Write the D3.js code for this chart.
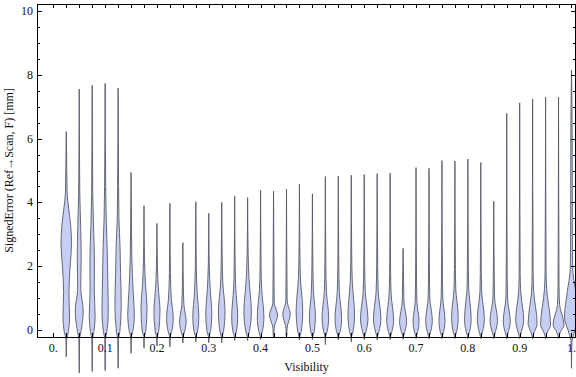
<!DOCTYPE html>
<html><head><meta charset="utf-8">
<script src="https://cdn.jsdelivr.net/npm/d3@7"></script>
<style>body{margin:0;background:#fff}svg{display:block}</style>
</head><body>
<script>
const visibility = [0.025,0.05,0.075,0.1,0.125,0.15,0.175,0.2,0.225,0.25,0.275,0.3,0.325,0.35,0.375,0.4,0.425,0.45,0.475,0.5,0.525,0.55,0.575,0.6,0.625,0.65,0.675,0.7,0.725,0.75,0.775,0.8,0.825,0.85,0.875,0.9,0.925,0.95,0.975,1.0];
const errorMin = [-0.84,-1.35,-1.3,-1.27,-1.2,-0.73,-0.57,-0.5,-0.53,-0.41,-0.37,-0.4,-0.4,-0.33,-0.33,-0.3,-0.23,-0.23,-0.31,-0.3,-0.46,-0.31,-0.38,-0.3,-0.31,-0.3,-0.29,-0.27,-0.27,-0.27,-0.27,-0.27,-0.27,-0.27,-0.27,-0.27,-0.27,-0.27,-0.27,-1.2];
const errorMax = [6.22,7.55,7.67,7.73,7.58,4.94,3.9,3.34,3.97,2.74,4.02,3.66,4.0,4.2,4.15,4.38,4.35,4.42,4.57,4.27,4.81,4.82,4.85,4.87,4.9,4.92,2.56,5.09,5.07,5.31,5.3,5.36,5.25,4.03,6.79,7.12,7.24,7.3,7.3,8.15];
// density profile knots [error, relative density]
const densityKnots = [
 [[-0.3,0.05],[-0.05,0.3],[0.4,0.47],[1.2,0.38],[2.0,0.55],[2.7,0.75],[3.3,0.62],[3.8,0.35],[4.3,0.12],[5.0,0.07]],
 [[-0.3,0.05],[-0.05,0.25],[0.6,0.57],[1.3,0.22],[2.3,0.28],[3.3,0.2],[4.3,0.08]],
 [[-0.3,0.05],[-0.05,0.25],[0.45,0.42],[1.2,0.3],[2.2,0.32],[3.3,0.18],[4.3,0.08]],
 [[-0.3,0.05],[-0.05,0.25],[0.6,0.45],[1.5,0.38],[2.5,0.3],[3.5,0.15],[4.5,0.08]],
 [[-0.3,0.05],[-0.05,0.25],[0.8,0.45],[1.8,0.35],[2.6,0.28],[3.5,0.12],[4.5,0.07]],
 [[-0.2,0.05],[-0.05,0.25],[0.5,0.47],[1.2,0.3],[2.2,0.12],[3.0,0.07]],
 [[-0.2,0.05],[-0.05,0.25],[0.7,0.43],[1.4,0.22],[2.2,0.07]],
 [[-0.2,0.05],[-0.05,0.25],[0.6,0.43],[1.3,0.2],[2.0,0.07]],
 [[-0.2,0.05],[-0.05,0.25],[0.37,0.47],[1.0,0.2],[1.8,0.07]],
 [[-0.2,0.05],[-0.05,0.25],[0.26,0.47],[0.8,0.15],[1.4,0.07]],
 [[-0.2,0.05],[-0.05,0.25],[0.4,0.43],[1.2,0.18],[2.0,0.07]],
 [[-0.2,0.05],[-0.05,0.25],[0.5,0.43],[1.3,0.2],[2.0,0.07]],
 [[-0.2,0.05],[-0.05,0.25],[0.57,0.47],[1.5,0.15],[2.2,0.07]],
 [[-0.2,0.05],[-0.05,0.25],[0.4,0.43],[1.3,0.15],[2.0,0.07]],
 [[-0.2,0.05],[-0.05,0.25],[0.57,0.53],[1.6,0.2],[2.4,0.07]],
 [[-0.2,0.05],[-0.05,0.25],[0.4,0.47],[1.3,0.15],[2.0,0.07]],
 [[-0.15,0.05],[0.05,0.08],[0.47,0.57],[0.85,0.1],[1.5,0.07]],
 [[-0.15,0.05],[0.05,0.08],[0.5,0.53],[0.9,0.1],[1.5,0.07]],
 [[-0.2,0.05],[-0.05,0.25],[0.6,0.47],[1.6,0.15],[2.3,0.07]],
 [[-0.2,0.05],[-0.05,0.25],[0.4,0.43],[1.2,0.15],[2.0,0.07]],
 [[-0.2,0.05],[-0.05,0.25],[0.4,0.47],[1.2,0.15],[2.0,0.07]],
 [[-0.2,0.05],[-0.05,0.25],[0.35,0.47],[1.2,0.15],[2.0,0.07]],
 [[-0.2,0.05],[-0.05,0.25],[0.47,0.47],[1.5,0.15],[2.2,0.07]],
 [[-0.2,0.05],[-0.05,0.25],[0.35,0.53],[1.2,0.15],[2.0,0.07]],
 [[-0.2,0.05],[-0.05,0.25],[0.35,0.53],[1.2,0.15],[2.0,0.07]],
 [[-0.2,0.05],[-0.05,0.25],[0.3,0.5],[1.1,0.15],[1.8,0.07]],
 [[-0.2,0.05],[-0.05,0.25],[0.26,0.5],[0.9,0.12],[1.5,0.07]],
 [[-0.2,0.05],[-0.05,0.25],[0.26,0.43],[0.9,0.12],[1.5,0.07]],
 [[-0.2,0.05],[-0.05,0.25],[0.3,0.47],[1.0,0.12],[1.6,0.07]],
 [[-0.2,0.05],[-0.05,0.25],[0.3,0.43],[1.0,0.12],[1.6,0.07]],
 [[-0.2,0.05],[-0.05,0.25],[0.4,0.47],[1.3,0.12],[1.9,0.07]],
 [[-0.2,0.05],[-0.05,0.25],[0.35,0.47],[1.3,0.12],[1.9,0.07]],
 [[-0.2,0.05],[-0.05,0.25],[0.35,0.5],[1.2,0.12],[1.8,0.07]],
 [[-0.2,0.05],[-0.05,0.25],[0.3,0.53],[1.0,0.12],[1.6,0.07]],
 [[-0.2,0.05],[-0.05,0.25],[0.26,0.5],[1.0,0.12],[1.6,0.07]],
 [[-0.2,0.05],[-0.05,0.25],[0.3,0.57],[1.2,0.15],[1.8,0.07]],
 [[-0.2,0.05],[-0.05,0.27],[0.2,0.64],[1.2,0.15],[1.8,0.07]],
 [[-0.2,0.05],[-0.05,0.3],[0.16,0.71],[1.3,0.15],[1.9,0.07]],
 [[-0.2,0.05],[-0.05,0.3],[0.16,0.78],[0.8,0.15],[1.4,0.07]],
 [[-0.4,0.06],[-0.1,0.35],[0.4,1.0],[1.2,0.6],[1.9,0.18],[3.0,0.12],[6.0,0.1]]
];
const xTickValues = [0,0.1,0.2,0.3,0.4,0.5,0.6,0.7,0.8,0.9,1.0];
const xTickLabels = ["0.","0.1","0.2","0.3","0.4","0.5","0.6","0.7","0.8","0.9","1."];
const yTickValues = [0,2,4,6,8,10];
const yTickLabels = ["0","2","4","6","8","10"];

const W = 576, H = 377;
const L = 37, R = 576, T = 4, B = 337;
const svg = d3.select("body").append("svg").attr("width", W).attr("height", H);
const x = d3.scaleLinear().domain([-0.0315, 1.0087]).range([L, R]);
const y = d3.scaleLinear().domain([-0.22, 10.22]).range([B, T]);
const w = d3.scaleLinear().domain([0, 1]).range([0, 7]);
const font = "'Liberation Serif','Times New Roman',serif";

const gV = svg.append("g");
visibility.forEach((v, i) => {
  const lo = errorMin[i], hi = errorMax[i];
  let pts = [[lo, 0]].concat(densityKnots[i].filter(p => p[0] > lo && p[0] < hi)).concat([[hi, 0]]);
  pts.sort((a, b) => b[0] - a[0]);
  const cx = x(v);
  const area = d3.area().curve(d3.curveMonotoneY)
    .y(d => y(d[0])).x0(d => cx - w(d[1])).x1(d => cx + w(d[1]));
  gV.append("path").attr("d", area(pts))
    .attr("fill", "#c7cef4").attr("stroke", "#555a66").attr("stroke-width", 0.9)
    .attr("stroke-linejoin", "round");
});

const gA = svg.append("g").attr("stroke", "#000").attr("stroke-width", 1).attr("fill", "none");
// frame
gA.append("line").attr("x1", L + 0.5).attr("x2", L + 0.5).attr("y1", T).attr("y2", B);
gA.append("line").attr("x1", L).attr("x2", R).attr("y1", B + 0.5).attr("y2", B + 0.5);
gA.append("line").attr("x1", L).attr("x2", R).attr("y1", T + 0.5).attr("y2", T + 0.5);
gA.append("line").attr("x1", R - 0.5).attr("x2", R - 0.5).attr("y1", T).attr("y2", B);
// x ticks every 0.025
const xMinor = d3.range(0, 41).map(k => k * 0.025);
xMinor.forEach(t => {
  const px = Math.round(x(t)) + 0.5;
  gA.append("line").attr("x1", px).attr("x2", px).attr("y1", B).attr("y2", B - 4);
  gA.append("line").attr("x1", px).attr("x2", px).attr("y1", T).attr("y2", T + 4);
});
// y ticks every 0.5
const yMinor = d3.range(0, 21).map(k => k * 0.5);
yMinor.forEach(t => {
  const py = Math.round(y(t)) + 0.5;
  const major = t % 2 === 0;
  gA.append("line").attr("x1", L).attr("x2", L + (major ? 5 : 3)).attr("y1", py).attr("y2", py);
  gA.append("line").attr("x1", R).attr("x2", R - (major ? 5 : 3)).attr("y1", py).attr("y2", py);
});

const gT = svg.append("g").attr("font-family", font).attr("font-size", 12).attr("fill", "#111");
xTickValues.forEach((t, i) => {
  gT.append("text").attr("x", x(t)).attr("y", 352).attr("text-anchor", "middle").text(xTickLabels[i]);
});
yTickValues.forEach((t, i) => {
  gT.append("text").attr("x", 33).attr("y", y(t) + 4).attr("text-anchor", "end").text(yTickLabels[i]);
});
gT.append("text").attr("x", (L + R) / 2).attr("y", 371).attr("text-anchor", "middle").text("Visibility");
gT.append("text").attr("transform", `translate(13,${(T + B) / 2}) rotate(-90)`)
  .attr("text-anchor", "middle").text("SignedError (Ref\u2192Scan, F) [mm]");
</script>
</body></html>
